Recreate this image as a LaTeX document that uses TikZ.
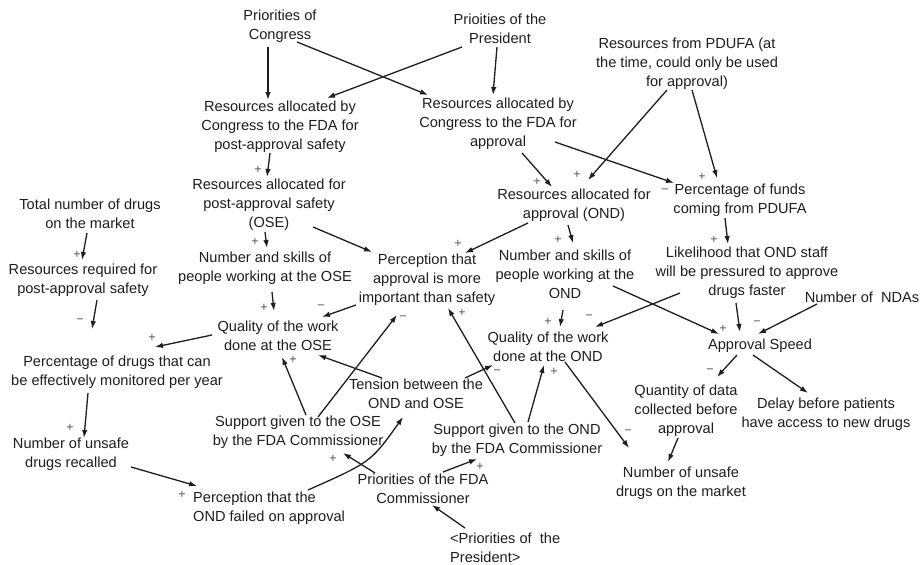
\documentclass[tikz,border=0pt]{standalone}
\usepackage{fontspec}
\setmainfont{Liberation Sans}
\usetikzlibrary{arrows.meta}
\definecolor{ink}{HTML}{1E1E1E}
\definecolor{sgn}{HTML}{555555}
\begin{document}
\begin{tikzpicture}[x=1pt,y=-1pt,
  v/.style={align=center,inner sep=0pt,font=\fontsize{14.6pt}{19pt}\selectfont,text=ink},
  vl/.style={v,align=left,anchor=west},
  sg/.style={inner sep=0pt,font=\fontsize{12.5pt}{13pt}\selectfont,text=sgn},
  ar/.style={draw=ink,line width=1.3pt,-{Latex[length=8pt,width=5.5pt]}}]
\useasboundingbox[fill=white] (0,0) rectangle (922,565);
% variables
\node[v] (pcong) at (280,26) {Priorities of\\Congress};
\node[v] (ppres) at (500,29) {Prioities of the\\President};
\node[v] (rcpost) at (280,127) {Resources allocated by\\Congress to the FDA for\\post-approval safety};
\node[v] (rcappr) at (498,124) {Resources allocated by\\Congress to the FDA for\\approval};
\node[v] (rpdufa) at (687,64) {Resources from PDUFA (at\\the time, could only be used\\for approval)};
\node[v] (rose) at (269,205) {Resources allocated for\\post-approval safety\\(OSE)};
\node[v] (total) at (90,214) {Total number of drugs\\on the market};
\node[v] (rreq) at (83,280) {Resources required for\\post-approval safety};
\node[v] (nsose) at (265,268) {Number and skills of\\people working at the OSE};
\node[v] (papp) at (427,280) {Perception that\\approval is more\\important than safety};
\node[v] (rond) at (574,205) {Resources allocated for\\approval (OND)};
\node[v] (nsond) at (565,274) {Number and skills of\\people working at the\\OND};
\node[v] (pfunds) at (740,200) {Percentage of funds\\coming from PDUFA};
\node[v] (likeli) at (747,273) {Likelihood that OND staff\\will be pressured to approve\\drugs faster};
\node[v] (ndas) at (862,297) {Number of\ \ NDAs};
\node[v] (aspeed) at (760,346) {Approval Speed};
\node[v] (qose) at (278,336) {Quality of the work\\done at the OSE};
\node[v] (pmon) at (117,372) {Percentage of drugs that can\\be effectively monitored per year};
\node[v] (nrecall) at (71,454) {Number of unsafe\\drugs recalled};
\node[vl] (pfail) at (193,508) {Perception that the\\OND failed on approval};
\node[v] (sose) at (298,432) {Support given to the OSE\\by the FDA Commissioner};
\node[v] (tension) at (416,394) {Tension between the\\OND and OSE};
\node[v] (pfda) at (423,489) {Priorities of the FDA\\Commissioner};
\node[vl] (ppres2) at (450,548) {<Priorities of\ \ the\\President>};
\node[v] (sond) at (517,440) {Support given to the OND\\by the FDA Commissioner};
\node[v] (qond) at (548,347) {Quality of the work\\done at the OND};
\node[v] (qdata) at (686,411) {Quantity of data\\collected before\\approval};
\node[v] (delay) at (826,414) {Delay before patients\\have access to new drugs};
\node[v] (numkt) at (681,483) {Number of unsafe\\drugs on the market};
% links
\draw[ar] ([shift={(-12,21)}]pcong.center) -- ([shift={(-12,-27)}]rcpost.center);
\draw[ar] ([shift={(17,16)}]pcong.center) -- ([shift={(-70,-29)}]rcappr.center);
\draw[ar] ([shift={(-38,18)}]ppres.center) -- ([shift={(47,-29)}]rcpost.center);
\draw[ar] ([shift={(-3,18)}]ppres.center) -- ([shift={(-5,-29)}]rcappr.center);
\draw[ar] ([shift={(-10,26)}]rcpost.center) -- ([shift={(-2,-28)}]rose.center);
\draw[ar] ([shift={(24,29)}]rcappr.center) -- ([shift={(-22,-18)}]rond.center);
\draw[ar] ([shift={(-20,26)}]rpdufa.center) -- ([shift={(14,-25)}]rond.center);
\draw[ar] ([shift={(57,18)}]rcappr.center) -- ([shift={(-66,-17)}]pfunds.center);
\draw[ar] ([shift={(5,26)}]rpdufa.center) -- ([shift={(-23,-22)}]pfunds.center);
\draw[ar] ([shift={(-4,27)}]rose.center) -- ([shift={(2,-20)}]nsose.center);
\draw[ar] ([shift={(-3,19)}]total.center) -- ([shift={(-1,-20)}]rreq.center);
\draw[ar] ([shift={(14,20)}]rreq.center) -- ([shift={(-25,-43)}]pmon.center);
\draw[ar] ([shift={(7,24)}]nsose.center) -- ([shift={(-4,-25)}]qose.center);
\draw[ar] ([shift={(-66,-1)}]qose.center) -- ([shift={(38,-25)}]pmon.center);
\draw[ar] ([shift={(44,22)}]rose.center) -- ([shift={(-55,-28)}]papp.center);
\draw[ar] ([shift={(-46,18)}]rond.center) -- ([shift={(38,-27)}]papp.center);
\draw[ar] ([shift={(-6,20)}]rond.center) -- ([shift={(8,-31)}]nsond.center);
\draw[ar] ([shift={(-71,25)}]papp.center) -- ([shift={(44,-19)}]qose.center);
\draw[ar] ([shift={(20,-15)}]sose.center) -- ([shift={(-30,35)}]papp.center);
\draw[ar] ([shift={(-2,-17)}]sond.center) -- ([shift={(21,28)}]papp.center);
\draw[ar] ([shift={(8,-17)}]sose.center) -- ([shift={(4,21)}]qose.center);
\draw[ar] ([shift={(-34,-16)}]tension.center) -- ([shift={(40,19)}]qose.center);
\draw[ar] ([shift={(49,-16)}]tension.center) -- ([shift={(-55,18)}]qond.center);
\draw[ar] ([shift={(11,-18)}]sond.center) -- ([shift={(-4,18)}]qond.center);
\draw[ar] ([shift={(-2,36)}]nsond.center) -- ([shift={(12,-20)}]qond.center);
\draw[ar] ([shift={(-67,20)}]likeli.center) -- ([shift={(47,-20)}]qond.center);
\draw[ar] ([shift={(48,12)}]nsond.center) -- ([shift={(-41,-12)}]aspeed.center);
\draw[ar] ([shift={(-15,18)}]pfunds.center) -- ([shift={(-19,-29)}]likeli.center);
\draw[ar] ([shift={(-11,30)}]likeli.center) -- ([shift={(-20,-14)}]aspeed.center);
\draw[ar] ([shift={(-45,7)}]ndas.center) -- ([shift={(-2,-12)}]aspeed.center);
\draw[ar] ([shift={(-23,9)}]aspeed.center) -- ([shift={(31,-34)}]qdata.center);
\draw[ar] ([shift={(-7,9)}]aspeed.center) -- ([shift={(-18,-21)}]delay.center);
\draw[ar] ([shift={(-8,27)}]qdata.center) -- ([shift={(-13,-21)}]numkt.center);
\draw[ar] ([shift={(17,15)}]qond.center) -- ([shift={(-52,-35)}]numkt.center);
\draw[ar] ([shift={(-29,21)}]pmon.center) -- ([shift={(13,-16)}]nrecall.center);
\draw[ar] ([shift={(60,13)}]nrecall.center) -- ([shift={(4,-22)}]pfail.west);
\draw[ar] ([shift={(115,-18)}]pfail.west) .. controls (371,462) .. ([shift={(-13,23)}]tension.center);
\draw[ar] ([shift={(-48,-16)}]pfda.center) -- ([shift={(45,21)}]sose.center);
\draw[ar] ([shift={(20,-17)}]pfda.center) -- ([shift={(-40,19)}]sond.center);
\draw[ar] ([shift={(15,-20)}]ppres2.west) -- ([shift={(9,16)}]pfda.center);
% polarities
\node[sg] (s1) at (258,170) {+};
\node[sg] (s2) at (537,182) {+};
\node[sg] (s3) at (577,175) {+};
\node[sg] (s4) at (665,191) {−};
\node[sg] (s5) at (702,177) {+};
\node[sg] (s6) at (255,242) {+};
\node[sg] (s7) at (77,255) {+};
\node[sg] (s8) at (80,321) {−};
\node[sg] (s9) at (264,308) {+};
\node[sg] (s10) at (152,338) {+};
\node[sg] (s11) at (458,244) {+};
\node[sg] (s12) at (558,240) {+};
\node[sg] (s13) at (321,307) {−};
\node[sg] (s14) at (403,318) {−};
\node[sg] (s15) at (462,313) {+};
\node[sg] (s16) at (293,360) {+};
\node[sg] (s17) at (497,372) {−};
\node[sg] (s18) at (554,372) {+};
\node[sg] (s19) at (548,322) {+};
\node[sg] (s20) at (589,317) {−};
\node[sg] (s21) at (723,329) {+};
\node[sg] (s22) at (714,240) {+};
\node[sg] (s23) at (757,323) {−};
\node[sg] (s24) at (710,371) {−};
\node[sg] (s25) at (628,432) {−};
\node[sg] (s26) at (70,428) {+};
\node[sg] (s27) at (182,495) {+};
\node[sg] (s28) at (333,459) {+};
\node[sg] (s29) at (480,467) {+};
\end{tikzpicture}
\end{document}
